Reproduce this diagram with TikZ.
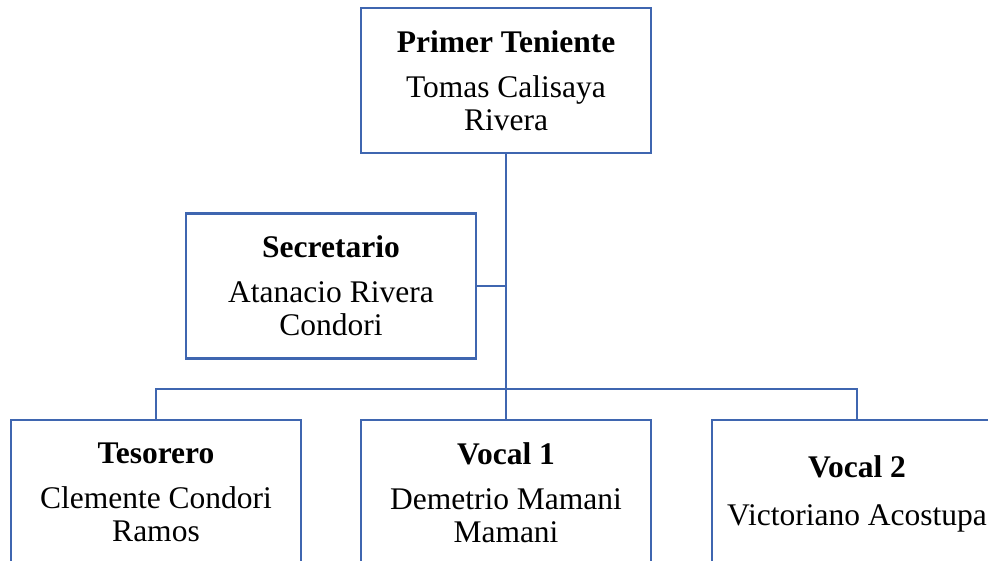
\documentclass[tikz,border=0pt]{standalone}
\usepackage{fontspec}
\setmainfont{Liberation Serif}
\definecolor{boxblue}{HTML}{3F66B0}
\begin{document}
\begin{tikzpicture}[x=1pt,y=-1pt,
  orgbox/.style={draw=boxblue,line width=2.3pt,fill=white,minimum width=290pt,minimum height=145pt,
    align=center,inner sep=0pt,font=\fontsize{31.5}{33}\selectfont},
  conn/.style={draw=boxblue,line width=2.3pt}]
\clip (0,0) rectangle (988,560);
\fill[white] (0,0) rectangle (988,560);
\node[orgbox] (top) at (506,80.5) {\textbf{Primer Teniente}\\[12pt]Tomas Calisaya\\Rivera};
\node[orgbox] (sec) at (331,286) {\textbf{Secretario}\\[12pt]Atanacio Rivera\\Condori};
\node[orgbox] (tes) at (156,492.5) {\textbf{Tesorero}\\[12pt]Clemente Condori\\Ramos};
\node[orgbox] (voc1) at (506,492.5) {\textbf{Vocal 1}\\[12pt]Demetrio Mamani\\Mamani};
\node[orgbox] (voc2) at (857,492.5) {\textbf{Vocal 2}\\[15pt]Victoriano Acostupa\\[-29pt]\mbox{}};
\coordinate (bus) at (506,389);
\draw[conn] (top.south) -- (bus);
\draw[conn] (sec.east) -- (sec.east -| top.south);
\draw[conn] (tes.north) |- (bus) -| (voc2.north);
\draw[conn] (bus) -- (voc1.north);
\end{tikzpicture}
\end{document}
